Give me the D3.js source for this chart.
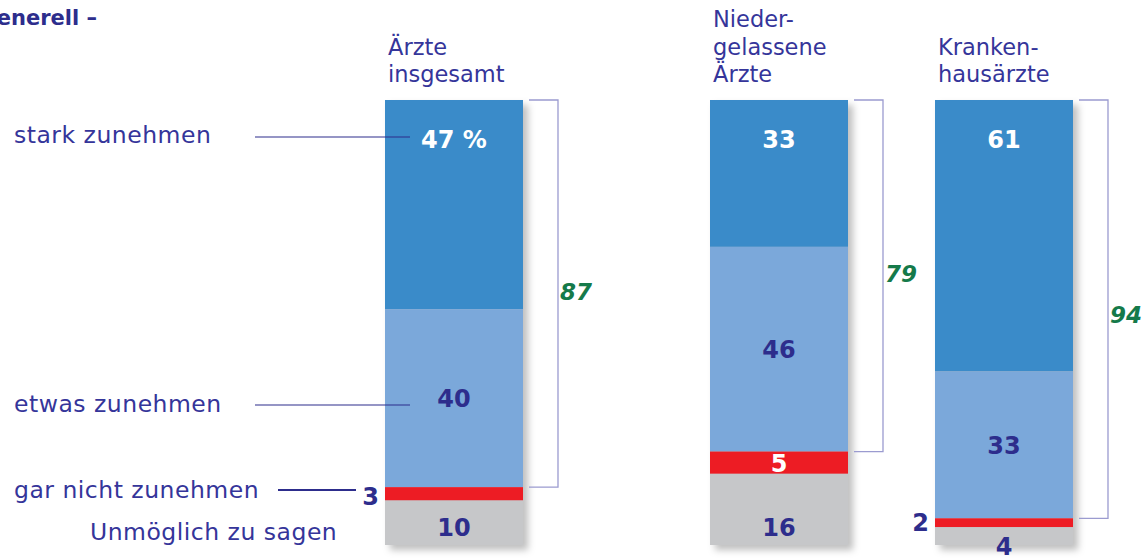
<!DOCTYPE html>
<html lang="de">
<head>
<meta charset="UTF-8">
<title>Ärzte – Erwartung</title>
<script src="https://cdn.jsdelivr.net/npm/d3@7"></script>
<style>
  body { margin: 0; background: #fff; }
  svg { display: block; font-family: "DejaVu Sans", "Noto Sans", sans-serif; }
</style>
</head>
<body>
<svg width="1143" height="558"></svg>
<script>
// Daten
var groups = ["Ärzte insgesamt", "Niedergelassene Ärzte", "Krankenhausärzte"];
var headers = [["Ärzte", "insgesamt"], ["Nieder-", "gelassene", "Ärzte"], ["Kranken-", "hausärzte"]];
var categories = ["stark zunehmen", "etwas zunehmen", "gar nicht zunehmen", "Unmöglich zu sagen"];
var stark = [47, 33, 61];
var etwas = [40, 46, 33];
var garNicht = [3, 5, 2];
var unmoeglich = [10, 16, 4];
var totals = [87, 79, 94];   // stark + etwas

var navy = "#2d2d8c";
var textBlue = "#35359a";
var colors = ["#3a8bc9", "#7ba8da", "#ed1c24", "#c6c7c9"];
var labelColors = ["#fff", navy, "#fff", navy];

var svg = d3.select("svg");

var x = d3.scaleOrdinal().domain(groups).range([385, 710, 935]);
var bw = 138;
var y = d3.scaleLinear().domain([0, 100]).range([100, 545]);

// Schatten
var defs = svg.append("defs");
var f = defs.append("filter").attr("id", "shadow").attr("x", "-10%").attr("y", "-10%").attr("width", "130%").attr("height", "130%");
f.append("feDropShadow").attr("dx", 5).attr("dy", 5).attr("stdDeviation", 3.5)
  .attr("flood-color", "#000").attr("flood-opacity", 0.25);

// Titel (links abgeschnitten wie im Original)
svg.append("text").attr("x", 97).attr("y", 25).attr("text-anchor", "end")
  .attr("fill", navy).attr("font-weight", "bold").attr("font-size", 21)
  .text("generell –");

// Stapel bauen
var series = [stark, etwas, garNicht, unmoeglich];
var rows = groups.map(function (g, i) {
  var acc = 0;
  return series.map(function (s, k) {
    var seg = { group: g, i: i, k: k, v: s[i], y0: acc, y1: acc + s[i] };
    acc += s[i];
    return seg;
  });
});
var segs = [].concat.apply([], rows);

// Spaltenköpfe
groups.forEach(function (g, i) {
  var lines = headers[i];
  var t = svg.append("text").attr("x", x(g) + 3).attr("fill", textBlue)
    .attr("font-size", 22.5);
  lines.forEach(function (l, j) {
    t.append("tspan").attr("x", x(g) + 3).attr("y", 82 - (lines.length - 1 - j) * 27.5).text(l);
  });
});

// Balken
var bars = svg.append("g").attr("filter", "url(#shadow)");
groups.forEach(function (g, i) {
  bars.append("rect").attr("x", x(g)).attr("y", y(0)).attr("width", bw)
    .attr("height", y(100) - y(0)).attr("fill", colors[3]);
});
svg.append("g").selectAll("rect").data(segs).enter().append("rect")
  .attr("x", function (d) { return x(d.group); })
  .attr("y", function (d) { return y(d.y0); })
  .attr("width", bw)
  .attr("height", function (d) { return y(d.y1) - y(d.y0); })
  .attr("fill", function (d) { return colors[d.k]; });

// Klammern + Summen
groups.forEach(function (g, i) {
  var x0 = x(g) + bw + 6, x1 = x(g) + bw + 35;
  var yb = y(stark[i] + etwas[i]);
  svg.append("path")
    .attr("d", "M" + x0 + "," + y(0) + "H" + x1 + "V" + yb + "H" + x0)
    .attr("fill", "none").attr("stroke", "#9b9bd0").attr("stroke-width", 1.3);
  svg.append("text").attr("x", x1 + 2).attr("y", (y(0) + yb) / 2 + 6 + (i == 2 ? 8 : 0))
    .attr("fill", "#157a4a").attr("font-style", "italic").attr("font-weight", "bold")
    .attr("font-size", 23).text(totals[i]);
});

// Werte in den Balken
function labelPos(d) {
  var cx = x(d.group) + bw / 2;
  var top = y(d.y0), bot = y(d.y1), h = bot - top;
  if (d.k == 0) return { x: cx, y: top + 48, a: "middle" };
  if (d.k == 2 && h < 16) return { x: x(d.group) - 6, y: bot + 4, a: "end" };
  if (d.k == 3) return h > 30 ? { x: cx, y: y(100) - 9, a: "middle" } : { x: cx, y: y(100) + 10, a: "middle" };
  return { x: cx, y: (top + bot) / 2 + 9, a: "middle" };
}
svg.append("g").selectAll("text").data(segs).enter().append("text")
  .each(function (d) { d.p = labelPos(d); })
  .attr("x", function (d) { return d.p.x; })
  .attr("y", function (d) { return d.p.y; })
  .attr("text-anchor", function (d) { return d.p.a; })
  .attr("font-size", 24).attr("font-weight", "bold")
  .attr("fill", function (d) { return (d.k == 2 && d.p.a == "end") ? navy : labelColors[d.k]; })
  .text(function (d) { return d.v + (d.i == 0 && d.k == 0 ? " %" : ""); });

// Legende links mit Linien
var legY = [135, 404, 490, 532];
var legX = [14, 14, 14, 90];
categories.forEach(function (c, k) {
  svg.append("text").attr("x", legX[k]).attr("y", legY[k] + 8)
    .attr("fill", textBlue).attr("font-size", 23.5).attr("letter-spacing", 0.5).text(c);
});
svg.append("line").attr("x1", 255).attr("x2", 410).attr("y1", 137).attr("y2", 137)
  .attr("stroke", navy).attr("stroke-width", 1.2);
svg.append("line").attr("x1", 255).attr("x2", 410).attr("y1", 405).attr("y2", 405)
  .attr("stroke", navy).attr("stroke-width", 1.2);
svg.append("line").attr("x1", 278).attr("x2", 356).attr("y1", 490).attr("y2", 490)
  .attr("stroke", navy).attr("stroke-width", 2);
</script>
</body>
</html>
